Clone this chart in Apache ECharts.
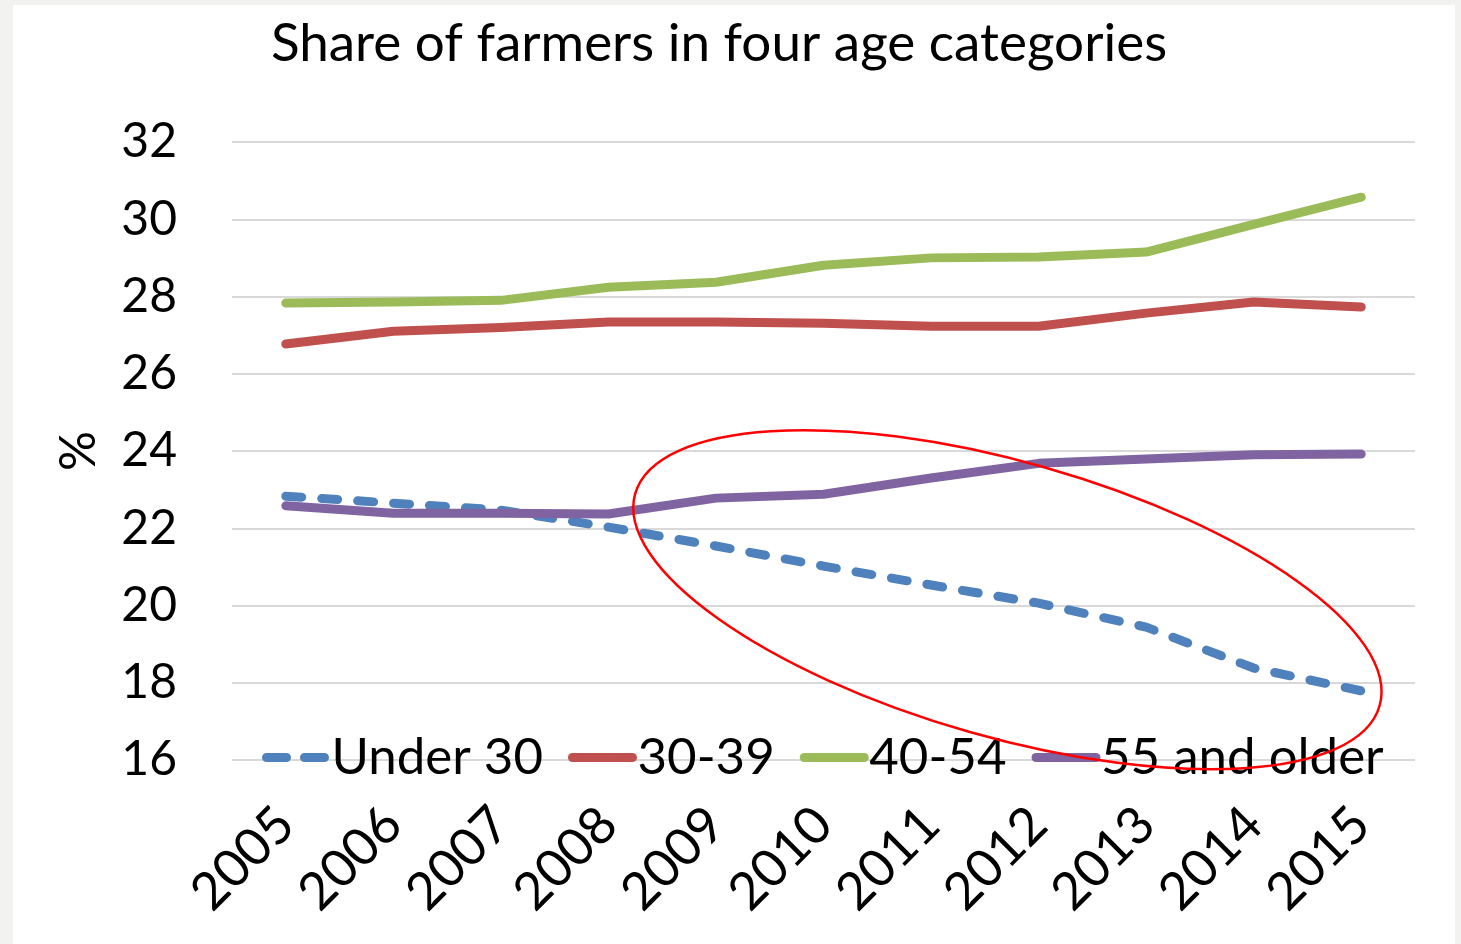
<!DOCTYPE html>
<html>
<head>
<meta charset="utf-8">
<script src="https://cdn.jsdelivr.net/npm/echarts@6/dist/echarts.min.js"></script>
<style>
  html, body { margin: 0; padding: 0; background: #f2f2f1; }
  #chart { width: 1461px; height: 944px; }
</style>
</head>
<body>
<div id="chart"></div>
<script>
// Years on the horizontal axis
const years = ['2005', '2006', '2007', '2008', '2009', '2010', '2011', '2012', '2013', '2014', '2015'];

// Share of farmers (%) per age group
const under30 = [22.83, 22.65, 22.47, 22.03, 21.54, 21.02, 20.53, 20.06, 19.44, 18.38, 17.79];
const age30to39 = [26.77, 27.10, 27.20, 27.34, 27.34, 27.31, 27.23, 27.23, 27.57, 27.86, 27.73];
const age40to54 = [27.83, 27.86, 27.90, 28.24, 28.37, 28.81, 29.00, 29.02, 29.15, 29.87, 30.57];
const age55plus = [22.58, 22.39, 22.39, 22.37, 22.78, 22.88, 23.30, 23.68, 23.79, 23.90, 23.92];

const FONT = 'Lato, "Open Sans", sans-serif';
const LINE_WIDTH = 9;

const chart = echarts.init(document.getElementById('chart'));

function lineSeries(name, data, color, dashed) {
  return {
    name: name,
    type: 'line',
    data: data,
    symbol: 'none',
    showSymbol: false,
    smooth: false,
    lineStyle: {
      color: color,
      width: LINE_WIDTH,
      cap: 'round',
      join: 'round',
      type: dashed ? [16, 20] : 'solid'
    },
    itemStyle: { color: color },
    emphasis: { disabled: true }
  };
}

const panel = {
  type: 'rect',
  z: -10,
  silent: true,
  shape: { x: 13, y: 5, width: 1442, height: 939 },
  style: { fill: '#ffffff' }
};

chart.setOption({
  backgroundColor: '#f2f2f1',
  animation: false,
  title: {
    text: 'Share of farmers in four age categories',
    left: 714,
    textAlign: 'center',
    top: 12,
    textStyle: { fontFamily: FONT, fontSize: 53, fontWeight: 'normal', color: '#000' }
  },
  legend: {
    data: [
      { name: 'Under 30', lineStyle: { type: [20, 18] } },
      '30-39',
      '40-54',
      '55 and older'
    ],
    left: 257,
    top: 727,
    itemWidth: 60,
    itemHeight: 10,
    itemGap: 25,
    itemStyle: { opacity: 0 },
    lineStyle: { width: LINE_WIDTH, cap: 'round' },
    textStyle: { fontFamily: FONT, fontSize: 51, color: '#000' }
  },
  grid: { left: 232, right: 46, top: 142, bottom: 184, containLabel: false },
  xAxis: {
    type: 'category',
    data: years,
    boundaryGap: true,
    axisLine: { show: false },
    axisTick: { show: false },
    axisLabel: {
      rotate: 45,
      margin: 56,
      fontFamily: FONT,
      fontSize: 52,
      color: '#000'
    }
  },
  yAxis: {
    type: 'value',
    min: 16,
    max: 32,
    interval: 2,
    name: '%',
    nameLocation: 'middle',
    nameRotate: 90,
    nameGap: 128,
    nameTextStyle: { fontFamily: FONT, fontSize: 50, color: '#000' },
    axisLine: { show: false },
    axisTick: { show: false },
    axisLabel: { margin: 55, fontFamily: FONT, fontSize: 48, color: '#000' },
    splitLine: { lineStyle: { color: '#d9d9d9', width: 2 } }
  },
  graphic: [panel],
  series: [
    lineSeries('Under 30', under30, '#4f81bd', true),
    lineSeries('30-39', age30to39, '#c0504d', false),
    lineSeries('40-54', age40to54, '#9bbb59', false),
    lineSeries('55 and older', age55plus, '#8064a2', false)
  ]
});

// Red ellipse highlighting the widening gap after 2008,
// positioned from axis coordinates (centre between 2011 and 2012, around 20.15 %)
const p6 = chart.convertToPixel({ gridIndex: 0 }, [6, 20.15]);
const p7 = chart.convertToPixel({ gridIndex: 0 }, [7, 20.15]);
const step = p7[0] - p6[0];
chart.setOption({
  graphic: [panel, {
    type: 'ellipse',
    silent: true,
    z: 100,
    x: p6[0] + 0.71 * step,
    y: p6[1],
    rotation: -0.2775,
    shape: { cx: 0, cy: 0, rx: 387, ry: 137.5 },
    style: { fill: 'none', stroke: '#ff0000', lineWidth: 2.5 }
  }]
});
</script>
</body>
</html>
